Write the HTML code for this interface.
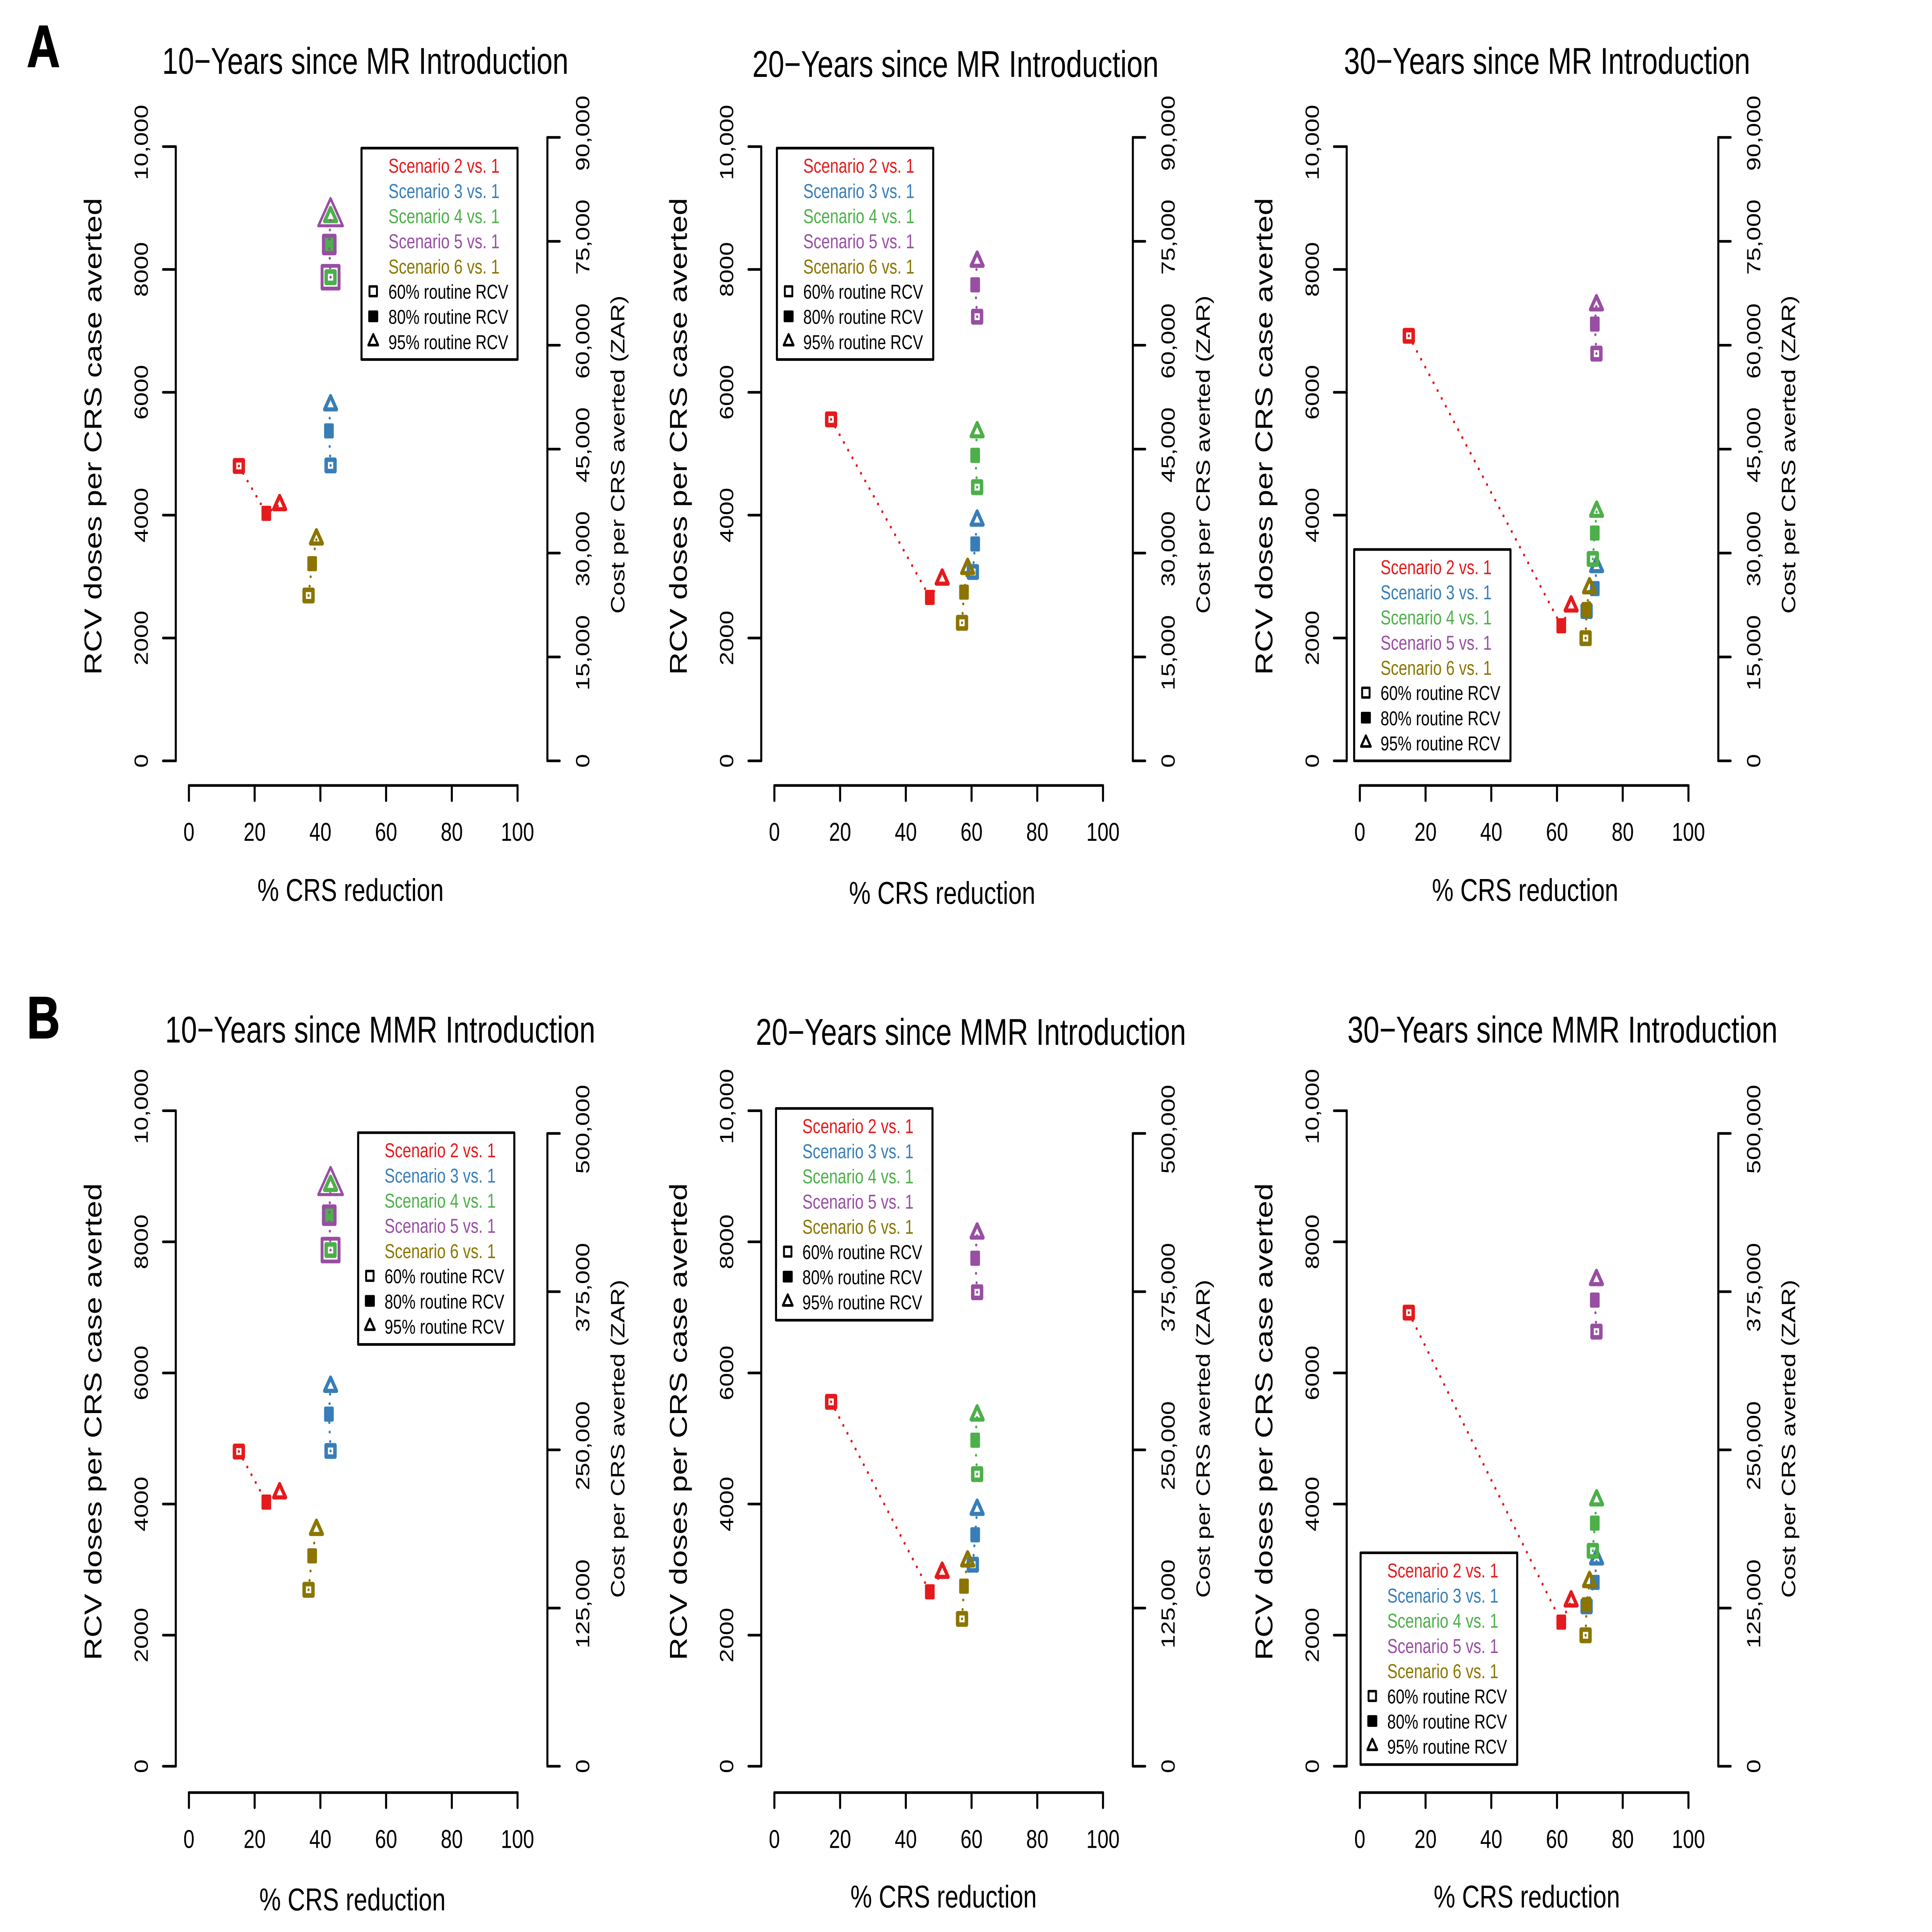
<!DOCTYPE html>
<html lang="en">
<head>
<meta charset="utf-8">
<title>RCV doses and cost per CRS case averted</title>
<style>
html,body{margin:0;padding:0;background:#fff;width:100%;height:100%;overflow:hidden;}
svg{display:block;width:100vw;height:100vh;}
text{font-family:"Liberation Sans",Arial,sans-serif;fill:#000;}
.title{font-size:98px;}
.axt{font-size:83px;}
.axr{font-size:66px;}
.ly{font-size:53px;}
.box{fill:#fff;stroke:#000;stroke-width:7;stroke-linejoin:round;}
.tag{font-size:156px;font-weight:bold;stroke:#000;stroke-width:3;}
.s2{fill:#E41A1C;}.s3{fill:#377EB8;}.s4{fill:#4DAF4A;}.s5{fill:#984EA3;}.s6{fill:#8B7500;}
</style>
</head>
<body>
<svg id="figure" xmlns="http://www.w3.org/2000/svg" viewBox="0 0 6600 5100" preserveAspectRatio="none">
<defs>
<g id="lg-symbols">
  <rect x="27.2" y="365.2" width="25.5" height="25.5" fill="none" stroke="#000" stroke-width="6.5" stroke-linejoin="round"/>
  <rect x="23" y="428.5" width="34" height="31" rx="3" fill="#000"/>
  <path d="M40 491.5L56.5 520L23.5 520Z" fill="none" stroke="#000" stroke-width="7" stroke-linejoin="round"/>
</g>
</defs>
<rect x="0" y="0" width="6600" height="5100" fill="#fff"/>

<text class="tag" x="92" y="176">A</text>
<text class="tag" x="92" y="2740">B</text>

<!-- A1 -->
<g>
  <text class="title" x="554" y="195">10−Years since MR Introduction</text>
  <text class="axt" text-anchor="middle" transform="translate(346.5 1152) rotate(-90)">RCV doses per CRS case averted</text>
  <text class="axr" text-anchor="middle" transform="translate(2133 1200) rotate(-90)">Cost per CRS averted (ZAR)</text>
  <text class="axt" text-anchor="middle" x="1197.5" y="2378">% CRS reduction</text>
  <g id="plot-a1"></g>
  <g transform="translate(1235 391)">
    <rect class="box" width="533" height="558"/>
    <text class="ly s2" x="92" y="65">Scenario 2 vs. 1</text>
    <text class="ly s3" x="92" y="131.5">Scenario 3 vs. 1</text>
    <text class="ly s4" x="92" y="198">Scenario 4 vs. 1</text>
    <text class="ly s5" x="92" y="264.5">Scenario 5 vs. 1</text>
    <text class="ly s6" x="92" y="331">Scenario 6 vs. 1</text>
    <text class="ly" x="92" y="397.5">60% routine RCV</text>
    <text class="ly" x="92" y="464">80% routine RCV</text>
    <text class="ly" x="92" y="530.5">95% routine RCV</text>
    <use href="#lg-symbols"/>
  </g>
</g>

<!-- A2 -->
<g>
  <text class="title" x="2570" y="203">20−Years since MR Introduction</text>
  <text class="axt" text-anchor="middle" transform="translate(2346.5 1152) rotate(-90)">RCV doses per CRS case averted</text>
  <text class="axr" text-anchor="middle" transform="translate(4133 1200) rotate(-90)">Cost per CRS averted (ZAR)</text>
  <text class="axt" text-anchor="middle" x="3218.6" y="2386">% CRS reduction</text>
  <g id="plot-a2"></g>
  <g transform="translate(2654 391)">
    <rect class="box" width="534" height="558"/>
    <text class="ly s2" x="90" y="65">Scenario 2 vs. 1</text>
    <text class="ly s3" x="90" y="131.5">Scenario 3 vs. 1</text>
    <text class="ly s4" x="90" y="198">Scenario 4 vs. 1</text>
    <text class="ly s5" x="90" y="264.5">Scenario 5 vs. 1</text>
    <text class="ly s6" x="90" y="331">Scenario 6 vs. 1</text>
    <text class="ly" x="90" y="397.5">60% routine RCV</text>
    <text class="ly" x="90" y="464">80% routine RCV</text>
    <text class="ly" x="90" y="530.5">95% routine RCV</text>
    <use href="#lg-symbols"/>
  </g>
</g>

<!-- A3 -->
<g>
  <text class="title" x="4591" y="195">30−Years since MR Introduction</text>
  <text class="axt" text-anchor="middle" transform="translate(4346.5 1152) rotate(-90)">RCV doses per CRS case averted</text>
  <text class="axr" text-anchor="middle" transform="translate(6133 1200) rotate(-90)">Cost per CRS averted (ZAR)</text>
  <text class="axt" text-anchor="middle" x="5210" y="2378">% CRS reduction</text>
  <g id="plot-a3"></g>
  <g transform="translate(4626 1450.5)">
    <rect class="box" width="534" height="558"/>
    <text class="ly s2" x="90" y="65">Scenario 2 vs. 1</text>
    <text class="ly s3" x="90" y="131.5">Scenario 3 vs. 1</text>
    <text class="ly s4" x="90" y="198">Scenario 4 vs. 1</text>
    <text class="ly s5" x="90" y="264.5">Scenario 5 vs. 1</text>
    <text class="ly s6" x="90" y="331">Scenario 6 vs. 1</text>
    <text class="ly" x="90" y="397.5">60% routine RCV</text>
    <text class="ly" x="90" y="464">80% routine RCV</text>
    <text class="ly" x="90" y="530.5">95% routine RCV</text>
    <use href="#lg-symbols"/>
  </g>
</g>

<!-- B1 -->
<g>
  <text class="title" x="564" y="2752">10−Years since MMR Introduction</text>
  <text class="axt" text-anchor="middle" transform="translate(346.5 3753) rotate(-90)">RCV doses per CRS case averted</text>
  <text class="axr" text-anchor="middle" transform="translate(2133 3798) rotate(-90)">Cost per CRS averted (ZAR)</text>
  <text class="axt" text-anchor="middle" x="1204" y="5043">% CRS reduction</text>
  <g id="plot-b1"></g>
  <g transform="translate(1223.5 2990)">
    <rect class="box" width="533.5" height="559"/>
    <text class="ly s2" x="90" y="65">Scenario 2 vs. 1</text>
    <text class="ly s3" x="90" y="131.5">Scenario 3 vs. 1</text>
    <text class="ly s4" x="90" y="198">Scenario 4 vs. 1</text>
    <text class="ly s5" x="90" y="264.5">Scenario 5 vs. 1</text>
    <text class="ly s6" x="90" y="331">Scenario 6 vs. 1</text>
    <text class="ly" x="90" y="397.5">60% routine RCV</text>
    <text class="ly" x="90" y="464">80% routine RCV</text>
    <text class="ly" x="90" y="530.5">95% routine RCV</text>
    <use href="#lg-symbols"/>
  </g>
</g>

<!-- B2 -->
<g>
  <text class="title" x="2582" y="2758">20−Years since MMR Introduction</text>
  <text class="axt" text-anchor="middle" transform="translate(2346.5 3753) rotate(-90)">RCV doses per CRS case averted</text>
  <text class="axr" text-anchor="middle" transform="translate(4133 3798) rotate(-90)">Cost per CRS averted (ZAR)</text>
  <text class="axt" text-anchor="middle" x="3223.5" y="5035">% CRS reduction</text>
  <g id="plot-b2"></g>
  <g transform="translate(2651 2926)">
    <rect class="box" width="534.5" height="559"/>
    <text class="ly s2" x="90" y="65">Scenario 2 vs. 1</text>
    <text class="ly s3" x="90" y="131.5">Scenario 3 vs. 1</text>
    <text class="ly s4" x="90" y="198">Scenario 4 vs. 1</text>
    <text class="ly s5" x="90" y="264.5">Scenario 5 vs. 1</text>
    <text class="ly s6" x="90" y="331">Scenario 6 vs. 1</text>
    <text class="ly" x="90" y="397.5">60% routine RCV</text>
    <text class="ly" x="90" y="464">80% routine RCV</text>
    <text class="ly" x="90" y="530.5">95% routine RCV</text>
    <use href="#lg-symbols"/>
  </g>
</g>

<!-- B3 -->
<g>
  <text class="title" x="4603" y="2752">30−Years since MMR Introduction</text>
  <text class="axt" text-anchor="middle" transform="translate(4346.5 3753) rotate(-90)">RCV doses per CRS case averted</text>
  <text class="axr" text-anchor="middle" transform="translate(6133 3798) rotate(-90)">Cost per CRS averted (ZAR)</text>
  <text class="axt" text-anchor="middle" x="5216" y="5035">% CRS reduction</text>
  <g id="plot-b3"></g>
  <g transform="translate(4648 4099)">
    <rect class="box" width="535" height="559"/>
    <text class="ly s2" x="91" y="65">Scenario 2 vs. 1</text>
    <text class="ly s3" x="91" y="131.5">Scenario 3 vs. 1</text>
    <text class="ly s4" x="91" y="198">Scenario 4 vs. 1</text>
    <text class="ly s5" x="91" y="264.5">Scenario 5 vs. 1</text>
    <text class="ly s6" x="91" y="331">Scenario 6 vs. 1</text>
    <text class="ly" x="91" y="397.5">60% routine RCV</text>
    <text class="ly" x="91" y="464">80% routine RCV</text>
    <text class="ly" x="91" y="530.5">95% routine RCV</text>
    <use href="#lg-symbols"/>
  </g>
</g>
</svg>

<script>
// Axis ticks and labels
const percentTicks = [0, 20, 40, 60, 80, 100];
const doseTicks = [0, 2000, 4000, 6000, 8000, 10000];
const doseTickLabels = ['0', '2000', '4000', '6000', '8000', '10,000'];
const costTicksMR = [0, 15000, 30000, 45000, 60000, 75000, 90000];
const costTickLabelsMR = ['0', '15,000', '30,000', '45,000', '60,000', '75,000', '90,000'];
const costTicksMMR = [0, 125000, 250000, 375000, 500000];
const costTickLabelsMMR = ['0', '125,000', '250,000', '375,000', '500,000'];

// Series order: scenario 2, 3, 4, 5, 6. Point order: 60%, 80%, 95% routine RCV.
const scenarioIds = ['2', '3', '4', '5', '6'];
const coverageIds = ['60', '80', '95'];

const reduction10yr = [
  [15.2, 23.55, 27.6],
  [43.1, 42.6, 43.1],
  [43.1, 42.7, 43.1],
  [43.1, 42.7, 43.1],
  [36.4, 37.5, 38.8]
];
const doses10yr = [
  [4801, 4030, 4169],
  [4810, 5372, 5794],
  [7874, 8406, 8859],
  [7874, 8406, 8859],
  [2692, 3210, 3611]
];
const reduction20yr = [
  [17.26, 47.3, 51.06],
  [60.4, 61.1, 61.7],
  [61.7, 61.1, 61.7],
  [61.7, 61.1, 61.7],
  [57.1, 57.7, 58.8]
];
const doses20yr = [
  [5559, 2661, 2957],
  [3075, 3531, 3917],
  [4456, 4974, 5356],
  [7231, 7750, 8132],
  [2248, 2747, 3130]
];
const reduction30yr = [
  [14.9, 61.3, 64.3],
  [69.0, 71.5, 72.05],
  [70.9, 71.5, 72.05],
  [72.0, 71.5, 72.0],
  [68.7, 69.0, 69.9]
];
const doses30yr = [
  [6920, 2199, 2520],
  [2439, 2805, 3161],
  [3287, 3709, 4062],
  [6630, 7111, 7422],
  [1998, 2464, 2816]
];

const SVGNS = 'http://www.w3.org/2000/svg';
const colours = ['#E41A1C', '#377EB8', '#4DAF4A', '#984EA3', '#8B7500'];

const panelLayouts = [
  {id: 'a1', ox: 0,    yBase: 2008.5, yTop: 387,  costTop: 362.7, xAxisY: 2073.5, ticks: costTicksMR,  labels: costTickLabelsMR,  rx: reduction10yr, ry: doses10yr, bigPurple: true},
  {id: 'a2', ox: 2000, yBase: 2008.5, yTop: 387,  costTop: 362.7, xAxisY: 2073.5, ticks: costTicksMR,  labels: costTickLabelsMR,  rx: reduction20yr, ry: doses20yr, bigPurple: false},
  {id: 'a3', ox: 4000, yBase: 2008.5, yTop: 387,  costTop: 362.7, xAxisY: 2073.5, ticks: costTicksMR,  labels: costTickLabelsMR,  rx: reduction30yr, ry: doses30yr, bigPurple: false},
  {id: 'b1', ox: 0,    yBase: 4662.5, yTop: 2932, costTop: 2992,  xAxisY: 4732,   ticks: costTicksMMR, labels: costTickLabelsMMR, rx: reduction10yr, ry: doses10yr, bigPurple: true},
  {id: 'b2', ox: 2000, yBase: 4662.5, yTop: 2932, costTop: 2992,  xAxisY: 4732,   ticks: costTicksMMR, labels: costTickLabelsMMR, rx: reduction20yr, ry: doses20yr, bigPurple: false},
  {id: 'b3', ox: 4000, yBase: 4662.5, yTop: 2932, costTop: 2992,  xAxisY: 4732,   ticks: costTicksMMR, labels: costTickLabelsMMR, rx: reduction30yr, ry: doses30yr, bigPurple: false}
];

function shape(tag, parent, attrs) {
  const el = document.createElementNS(SVGNS, tag);
  for (const key in attrs) el.setAttribute(key, attrs[key]);
  parent.appendChild(el);
  return el;
}

function axisLine(parent, x1, y1, x2, y2, name) {
  const el = shape('line', parent, {x1: x1, y1: y1, x2: x2, y2: y2, stroke: '#000', 'stroke-width': 7, 'stroke-linecap': 'round'});
  
  
  return el;
}

function rotatedLabel(parent, x, y, size, str, name) {
  const shift = str.indexOf(',') >= 0 ? -11 : 0;
  const el = shape('text', parent, {'text-anchor': 'middle', 'font-size': size, transform: 'translate(' + x + ' ' + (y + shift) + ') rotate(-90)'});
  el.textContent = str;
  
  
  return el;
}

function drawAxes(g, p) {
  const X = function (v) { return p.ox + 645.4 + v * 11.226; };
  const Y = function (v) { return p.yBase - (v / 10000) * (p.yBase - p.yTop); };
  const maxCost = p.ticks[p.ticks.length - 1];
  const C = function (v) { return p.yBase - (v / maxCost) * (p.yBase - p.costTop); };

  axisLine(g, X(percentTicks[0]), p.xAxisY, X(percentTicks[percentTicks.length - 1]), p.xAxisY, 'x-axis-line');
  percentTicks.forEach(function (t) {
    axisLine(g, X(t), p.xAxisY, X(t), p.xAxisY + 40, 'x-axis-tick');
    const lab = shape('text', g, {x: X(t), y: p.xAxisY + 146, 'text-anchor': 'middle', 'font-size': 68});
    lab.textContent = String(t);
    
    
  });

  const axL = p.ox + 600.5;
  axisLine(g, axL, Y(doseTicks[0]), axL, Y(doseTicks[doseTicks.length - 1]), 'y-axis-line');
  doseTicks.forEach(function (t, i) {
    axisLine(g, axL - 43.5, Y(t), axL, Y(t), 'y-axis-tick');
    rotatedLabel(g, p.ox + 505, Y(t), 65, doseTickLabels[i], 'y-tick-label');
  });

  const axR = p.ox + 1870;
  axisLine(g, axR, C(p.ticks[0]), axR, C(maxCost), 'cost-axis-line');
  p.ticks.forEach(function (t, i) {
    axisLine(g, axR, C(t), axR + 42, C(t), 'cost-axis-tick');
    rotatedLabel(g, p.ox + 2013, C(t), 65, p.labels[i], 'cost-tick-label');
  });

  return {X: X, Y: Y};
}

function triangle(cx, cy, r) {
  const h = r * 0.866;
  return 'M' + cx + ' ' + (cy - r) + 'L' + (cx + h) + ' ' + (cy + r / 2) + 'L' + (cx - h) + ' ' + (cy + r / 2) + 'Z';
}

function drawSeries(g, p, scales) {
  scenarioIds.forEach(function (sid, s) {
    const colour = colours[s];
    const big = p.bigPurple && sid === '5';
    const sg = shape('g', g, {});
    
    

    const pts = p.rx[s].map(function (v, i) { return [scales.X(v), scales.Y(p.ry[s][i])]; });
    const line = shape('polyline', sg, {
      points: pts.map(function (q) { return q[0] + ',' + q[1]; }).join(' '),
      fill: 'none', stroke: colour, 'stroke-width': 7.5, 'stroke-linecap': 'round', 'stroke-dasharray': '0 25'
    });
    
    

    // 60% routine RCV: open square
    const w0 = big ? 58 : 30, h0 = big ? 60 : 30;
    const m0 = shape('rect', sg, {x: pts[0][0] - w0 / 2, y: pts[0][1] - h0 / 2, width: w0, height: h0, fill: 'none', stroke: colour, 'stroke-width': big ? 10 : 12, 'stroke-linejoin': 'round'});
    
    

    // 80% routine RCV: filled square
    const m1 = big
      ? shape('rect', sg, {x: pts[1][0] - 19.5, y: pts[1][1] - 23, width: 39, height: 46, fill: 'none', stroke: colour, 'stroke-width': 11, 'stroke-linejoin': 'round'})
      : shape('rect', sg, {x: pts[1][0] - 16.5, y: pts[1][1] - 20, width: 33, height: 40, rx: 4, fill: colour});
    
    

    // 95% routine RCV: open triangle
    const m2 = shape('path', sg, {d: triangle(pts[2][0], pts[2][1], big ? 48 : 23.4), fill: 'none', stroke: colour, 'stroke-width': big ? 8 : 11, 'stroke-linejoin': 'round'});
    
    
  });
}

panelLayouts.forEach(function (p) {
  const g = document.getElementById('plot-' + p.id);
  const scales = drawAxes(g, p);
  drawSeries(g, p, scales);
});
</script>
</body>
</html>
